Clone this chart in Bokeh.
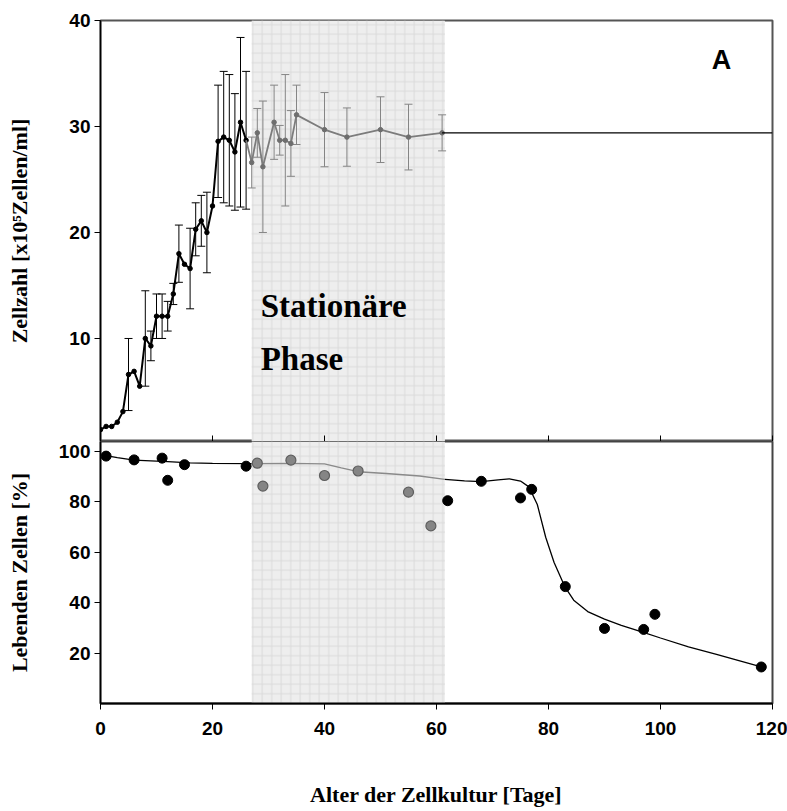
from bokeh.plotting import figure
from bokeh.models import ColumnDataSource, Whisker, TeeHead, BoxAnnotation, Label, FixedTicker, Range1d
from bokeh.layouts import column
from bokeh.embed import file_html
from bokeh.resources import INLINE

# ---------------- data ----------------
x_ticks = [0, 20, 40, 60, 80, 100, 120]
top_y_ticks = [10, 20, 30, 40]
bot_y_ticks = [20, 40, 60, 80, 100]
phase_start = 27
phase_end = 61.5

# cell count, growth phase (black)
grow_days = [0, 1, 2, 3, 4, 5, 6, 7, 8, 9, 10, 11, 12, 13, 14, 15, 16, 17, 18, 19, 20, 21, 22, 23, 24, 25, 26]
grow_vals = [1.4, 1.7, 1.7, 2.1, 3.1, 6.6, 6.9, 5.5, 10.0, 9.3, 12.1, 12.1, 12.1, 14.2, 18.0, 17.0, 16.6, 20.3, 21.1, 20.0, 22.5, 28.6, 29.0, 28.7, 27.6, 30.4, 28.7]
grow_errs = [0, 0, 0, 0, 0, 3.4, 0, 0, 4.5, 1.4, 2.1, 2.1, 1.4, 1.0, 2.7, 0, 3.8, 2.5, 2.4, 3.8, 0, 5.3, 6.2, 6.2, 5.5, 8.0, 6.5]

# cell count, stationary phase (grey)
stat_days = [27, 28, 29, 31, 32, 33, 34, 35, 40, 44, 50, 55, 61]
stat_vals = [26.6, 29.4, 26.2, 30.4, 28.7, 28.7, 28.4, 31.1, 29.7, 29.0, 29.7, 29.0, 29.4]
stat_errs = [2.4, 2.3, 6.2, 3.5, 1.4, 6.2, 3.1, 2.8, 3.5, 2.75, 3.1, 3.1, 1.7]

# plateau line
plateau_days = [61, 120]
plateau_vals = [29.4, 29.4]

# viability points
via_black_days = [1, 6, 11, 12, 15, 26, 62, 68, 75, 77, 83, 90, 97, 99, 118]
via_black_vals = [98.2, 96.7, 97.4, 88.6, 94.8, 94.2, 80.5, 88.2, 81.6, 85.0, 46.4, 29.8, 29.4, 35.4, 14.5]
via_grey_days = [28, 29, 34, 40, 46, 55, 59]
via_grey_vals = [95.4, 86.3, 96.6, 90.5, 92.3, 83.9, 70.5]

# viability fitted curve
curve1_days = [0.5, 3, 6, 9, 12, 16, 20, 27]
curve1_vals = [98.6, 97.6, 96.6, 96.3, 96.0, 95.5, 95.3, 95.2]
curve2_days = [27, 34, 40, 43, 46, 51, 57, 61.5]
curve2_vals = [95.2, 95.3, 95.1, 93.5, 92.0, 91.3, 90.3, 89.0]
curve3_days = [61.5, 65, 68, 71, 73, 75, 76.5, 78, 79.5, 81, 82.9, 84.5, 87, 90, 93, 96.8, 100, 105, 110, 114, 118]
curve3_vals = [89.0, 88.4, 88.1, 88.8, 89.2, 88.3, 86.0, 79.0, 66.0, 56.0, 46.4, 41.0, 36.5, 33.5, 31.0, 28.3, 26.0, 22.5, 19.5, 17.0, 14.5]

# ---------------- styling helpers ----------------
TICK_FONT = "Liberation Sans"
TITLE_FONT = "Liberation Serif"
GREY = "#7c7c7c"


def style_axis(ax, ticks):
    ax.ticker = FixedTicker(ticks=ticks)
    ax.minor_tick_line_color = None
    ax.major_label_text_font = TICK_FONT
    ax.major_label_text_font_style = "bold"
    ax.major_label_text_font_size = "19px"
    ax.major_label_text_color = "black"
    ax.axis_line_color = "black"
    ax.major_tick_line_color = "black"
    ax.axis_label_text_font = TITLE_FONT
    ax.axis_label_text_font_style = "bold"
    ax.axis_label_text_font_size = "22px"
    ax.axis_label_text_color = "black"


def band():
    return BoxAnnotation(left=phase_start, right=phase_end, fill_color="#eeeeee", fill_alpha=1.0,
                         hatch_pattern="+", hatch_color="#dadada", hatch_alpha=1.0,
                         hatch_scale=9.5, hatch_weight=1, line_color=None, level="underlay")


xr = Range1d(0, 120)

# ---------------- top panel ----------------
p1 = figure(width=787, height=441, x_range=xr, y_range=Range1d(0.28, 40),
            output_backend="svg", toolbar_location=None,
            min_border_left=100, min_border_right=15, min_border_top=20, min_border_bottom=0)
p1.xgrid.visible = False
p1.ygrid.visible = False
p1.outline_line_color = "#555555"
p1.outline_line_width = 2
p1.background_fill_color = "white"
p1.add_layout(band())

style_axis(p1.xaxis[0], x_ticks)
p1.xaxis.major_tick_in = 6
p1.xaxis.major_tick_out = 0
p1.xaxis.major_label_text_font_size = "1px"
p1.xaxis.major_label_text_color = None
p1.xaxis.major_label_standoff = 0

style_axis(p1.yaxis[0], top_y_ticks)
p1.yaxis.major_tick_in = 0
p1.yaxis.major_tick_out = 6
p1.yaxis.major_label_standoff = 4
p1.yaxis.axis_line_width = 1.5
p1.yaxis.axis_label = "Zellzahl [x10\u2075Zellen/ml]"
p1.yaxis.axis_label_standoff = 34

# error bars
g_err = [(d, v, e) for d, v, e in zip(grow_days, grow_vals, grow_errs) if e > 0]
g_src = ColumnDataSource(dict(x=[a for a, _, _ in g_err],
                              upper=[v + e for _, v, e in g_err],
                              lower=[v - e for _, v, e in g_err]))
p1.add_layout(Whisker(source=g_src, base="x", upper="upper", lower="lower", line_color="black",
                      line_width=1,
                      upper_head=TeeHead(size=8, line_color="black", line_width=1),
                      lower_head=TeeHead(size=8, line_color="black", line_width=1)))
s_src = ColumnDataSource(dict(x=stat_days,
                              upper=[v + e for v, e in zip(stat_vals, stat_errs)],
                              lower=[v - e for v, e in zip(stat_vals, stat_errs)]))
p1.add_layout(Whisker(source=s_src, base="x", upper="upper", lower="lower", line_color="#858585",
                      line_width=1,
                      upper_head=TeeHead(size=8, line_color="#858585", line_width=1),
                      lower_head=TeeHead(size=8, line_color="#858585", line_width=1)))

p1.line(grow_days, grow_vals, line_color="black", line_width=2)
p1.scatter(grow_days, grow_vals, size=4.5, color="black")
p1.line(grow_days[-1:] + stat_days, grow_vals[-1:] + stat_vals, line_color=GREY, line_width=1.8)
p1.scatter(stat_days, stat_vals, size=4.5, color="#6e6e6e")
p1.line(plateau_days, plateau_vals, line_color="black", line_width=1.2)

p1.add_layout(Label(x=28.6, y=13.1, text="Station\u00e4re", text_baseline="middle", text_align="left",
                    text_font=TITLE_FONT, text_font_style="bold", text_font_size="33px",
                    text_color="black"))
p1.add_layout(Label(x=28.6, y=8.1, text="Phase", text_baseline="middle", text_align="left",
                    text_font=TITLE_FONT, text_font_style="bold", text_font_size="33px",
                    text_color="black"))
p1.add_layout(Label(x=110.9, y=36.3, text="A", text_baseline="middle", text_align="center",
                    text_font=TICK_FONT, text_font_style="bold", text_font_size="27px",
                    text_color="black"))

# ---------------- bottom panel ----------------
p2 = figure(width=787, height=368, x_range=xr, y_range=Range1d(0, 104),
            output_backend="svg", toolbar_location=None,
            min_border_left=100, min_border_right=15, min_border_top=0, min_border_bottom=104)
p2.xgrid.visible = False
p2.ygrid.visible = False
p2.outline_line_color = "#444444"
p2.outline_line_width = 2
p2.add_layout(band())

style_axis(p2.xaxis[0], x_ticks)
p2.xaxis.major_tick_in = 0
p2.xaxis.major_tick_out = 6
p2.xaxis.axis_line_width = 2
p2.xaxis.major_label_standoff = 12
p2.xaxis.axis_label = "Alter der Zellkultur [Tage]"
p2.xaxis.axis_label_standoff = 44

style_axis(p2.yaxis[0], bot_y_ticks)
p2.yaxis.major_tick_in = 0
p2.yaxis.major_tick_out = 6
p2.yaxis.major_label_standoff = 4
p2.yaxis.axis_line_width = 1.5
p2.yaxis.axis_label = "Lebenden Zellen [%]"
p2.yaxis.axis_label_standoff = 24

p2.line(curve1_days, curve1_vals, line_color="black", line_width=1.3)
p2.line(curve2_days, curve2_vals, line_color="#8a8a8a", line_width=1.3)
p2.line(curve3_days, curve3_vals, line_color="black", line_width=1.3)
p2.scatter(via_black_days, via_black_vals, size=10, color="black")
p2.scatter(via_grey_days, via_grey_vals, size=10, fill_color="#858585", line_color="#5e5e5e",
           line_width=1.2)

layout = column(p1, p2, spacing=0)
open("out.html", "w").write(file_html(layout, INLINE))
